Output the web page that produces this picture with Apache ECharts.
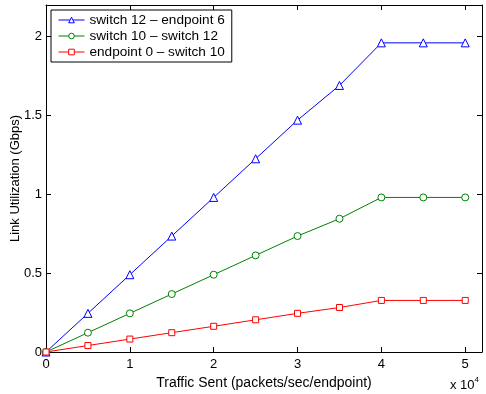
<!DOCTYPE html>
<html><head><meta charset="utf-8">
<script src="https://cdn.jsdelivr.net/npm/echarts@6/dist/echarts.min.js"></script>
<style>html,body{margin:0;padding:0;background:#fff}#c{width:486px;height:394px}</style>
</head><body><div id="c"></div>
<script>
const xValues = [0, 0.5, 1, 1.5, 2, 2.5, 3, 3.5, 4, 4.5, 5];
const seriesNames = ['switch 12 \u2013 endpoint 6', 'switch 10 \u2013 switch 12', 'endpoint 0 \u2013 switch 10'];
const sw12ep6 = [0, 0.245, 0.49, 0.735, 0.98, 1.225, 1.47, 1.69, 1.96, 1.96, 1.96];
const sw10sw12 = [0, 0.1225, 0.245, 0.3675, 0.49, 0.6125, 0.735, 0.845, 0.98, 0.98, 0.98];
const ep0sw10 = [0, 0.041, 0.082, 0.1225, 0.163, 0.204, 0.245, 0.282, 0.327, 0.327, 0.327];
const xTicks = [0, 1, 2, 3, 4, 5];
const yTicks = [0, 0.5, 1, 1.5, 2];

const font = 'Liberation Sans, Arial, Helvetica, sans-serif';
const pair = arr => xValues.map((x, i) => [x, arr[i]]);
const chart = echarts.init(document.getElementById('c'));
const axisLine = {show: true, onZero: false, lineStyle: {color: '#000', width: 1}};
const tickIn = {show: true, inside: true, length: 5, lineStyle: {color: '#000'}};
function fmt(list){ return v => { const m = list.find(t => Math.abs(t - v) < 1e-6); return m === undefined ? '' : String(m); }; }
chart.setOption({
  animation: false,
  backgroundColor: '#fff',
  grid: {left: 46, top: 5, right: 4, bottom: 42, containLabel: false, outerBoundsMode: 'none'},
  legend: {
    show: true, orient: 'vertical', left: 51, top: 10,
    backgroundColor: '#fff', borderColor: '#000', borderWidth: 1,
    padding: [3, 7, 3, 7], itemGap: 2, itemWidth: 26, itemHeight: 7,
    textStyle: {fontFamily: font, fontSize: 13.6, color: '#000'},
    lineStyle: {width: 1},
    itemStyle: {borderWidth: 1},
    data: seriesNames
  },
  xAxis: [{
    type: 'value', min: 0, max: 5.2, interval: 1, position: 'bottom',
    name: 'Traffic Sent (packets/sec/endpoint)', nameLocation: 'middle', nameGap: 23,
    nameTextStyle: {fontFamily: font, fontSize: 14, color: '#000'},
    axisLine: axisLine, axisTick: tickIn, splitLine: {show: false},
    axisLabel: {fontFamily: font, fontSize: 13, color: '#000', margin: 6, formatter: fmt(xTicks)}
  }, {
    type: 'value', min: 0, max: 5.2, interval: 1, position: 'top',
    axisLine: axisLine, axisTick: tickIn, splitLine: {show: false}, axisLabel: {show: false}
  }],
  yAxis: [{
    type: 'value', min: 0, max: 2.2, interval: 0.5, position: 'left',
    name: 'Link Utilization (Gbps)', nameLocation: 'middle', nameGap: 24, nameRotate: 90,
    nameMoveOverlap: false,
    nameTextStyle: {fontFamily: font, fontSize: 13, color: '#000'},
    axisLine: axisLine, axisTick: tickIn, splitLine: {show: false},
    axisLabel: {fontFamily: font, fontSize: 13, color: '#000', margin: 4, formatter: fmt(yTicks)}
  }, {
    type: 'value', min: 0, max: 2.2, interval: 0.5, position: 'right',
    axisLine: axisLine, axisTick: tickIn, splitLine: {show: false}, axisLabel: {show: false}
  }],
  graphic: [{
    type: 'text', left: 450, top: 376,
    style: {
      text: '{a|x 10}{b|4}', fontFamily: font,
      rich: {a: {fontSize: 13, fill: '#000', fontFamily: font}, b: {fontSize: 8, fill: '#000', fontFamily: font, verticalAlign: 'top', padding: [0,0,10,0]}}
    }
  }],
  series: [{
    name: seriesNames[0], type: 'line', data: pair(sw12ep6),
    symbol: 'triangle', symbolSize: 8, showAllSymbol: true,
    itemStyle: {color: '#fff', borderColor: '#0000ff', borderWidth: 1},
    lineStyle: {color: '#0000ff', width: 1}, color: '#0000ff'
  }, {
    name: seriesNames[1], type: 'line', data: pair(sw10sw12),
    symbol: 'circle', symbolSize: 7, showAllSymbol: true,
    itemStyle: {color: '#fff', borderColor: '#008000', borderWidth: 1},
    lineStyle: {color: '#008000', width: 1}, color: '#008000'
  }, {
    name: seriesNames[2], type: 'line', data: pair(ep0sw10),
    symbol: 'rect', symbolSize: 6, showAllSymbol: true,
    itemStyle: {color: '#fff', borderColor: '#ff0000', borderWidth: 1},
    lineStyle: {color: '#ff0000', width: 1}, color: '#ff0000'
  }]
});
</script></body></html>
